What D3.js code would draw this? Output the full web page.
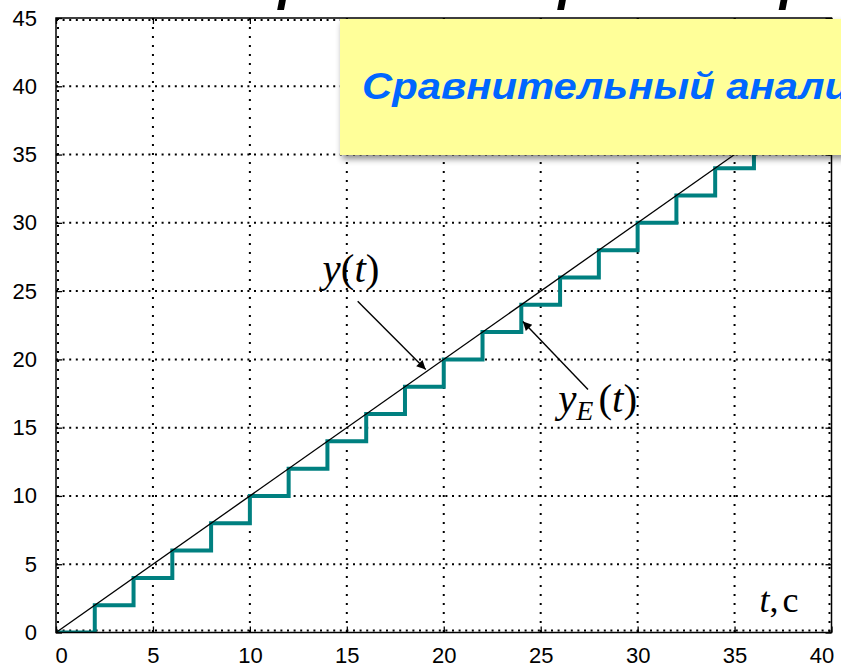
<!DOCTYPE html>
<html>
<head>
<meta charset="utf-8">
<script src="https://cdn.jsdelivr.net/npm/d3@7"></script>
<style>
  html, body { margin: 0; padding: 0; background: #fff; }
  svg { display: block; }
</style>
</head>
<body>
<svg id="chart" width="841" height="668"></svg>
<script>
// Exact solution y(t) = t
const exactT = [0, 40];
const exactY = [0, 40];

// Euler solution y_E(t), step h = 2 s (values at the nodes)
const eulerT = [0, 2, 4, 6, 8, 10, 12, 14, 16, 18, 20, 22, 24, 26, 28, 30, 32, 34, 36, 38, 40];
const eulerY = [0, 2, 4, 6, 8, 10, 12, 14, 16, 18, 20, 22, 24, 26, 28, 30, 32, 34, 36, 38, 40];

// Axis ticks
const xTicks = [0, 5, 10, 15, 20, 25, 30, 35, 40];
const yTicks = [0, 5, 10, 15, 20, 25, 30, 35, 40, 45];

const titleText = "Моделирование первого порядка";
const boxText = "Сравнительный анализ";

(function draw() {
  const svg = d3.select("#chart");
  const mLeft = 56, mRight = 831.5, mTop = 18, mBottom = 632.5;

  const x = d3.scaleLinear().domain([0, 40]).range([mLeft, mRight]);
  const y = d3.scaleLinear().domain([0, 45]).range([mBottom, mTop]);

  const defs = svg.append("defs");
  defs.append("clipPath").attr("id", "plotClip")
    .append("rect").attr("x", mLeft).attr("y", mTop)
    .attr("width", mRight - mLeft).attr("height", mBottom - mTop);

  const shadow = defs.append("filter").attr("id", "boxShadow")
    .attr("x", "-5%").attr("y", "-10%").attr("width", "115%").attr("height", "130%");
  shadow.append("feDropShadow").attr("dx", 2).attr("dy", 4)
    .attr("stdDeviation", 3).attr("flood-color", "#000").attr("flood-opacity", 0.45);

  defs.append("marker").attr("id", "arrowHead")
    .attr("viewBox", "0 0 10 10").attr("refX", 10).attr("refY", 5)
    .attr("markerWidth", 14).attr("markerHeight", 9)
    .attr("markerUnits", "userSpaceOnUse").attr("orient", "auto")
    .append("path").attr("d", "M0,0 L10,5 L0,10 Z").attr("fill", "#000");

  // Dotted grid
  const grid = svg.append("g");
  const edgeX = d => (d === 0 ? 2 : d === 40 ? -2 : 0);
  const edgeY = d => (d === 0 ? -2 : d === 45 ? 2 : 0);
  grid.selectAll("line.gx").data(xTicks).join("line").attr("class", "gx")
    .attr("x1", d => x(d) + edgeX(d)).attr("x2", d => x(d) + edgeX(d))
    .attr("y1", mTop).attr("y2", mBottom)
    .attr("stroke", "#000").attr("stroke-width", 2)
    .attr("stroke-dasharray", "2,7");
  grid.selectAll("line.gy").data(yTicks).join("line").attr("class", "gy")
    .attr("y1", d => y(d) + edgeY(d)).attr("y2", d => y(d) + edgeY(d))
    .attr("x1", mLeft).attr("x2", mRight)
    .attr("stroke", "#000").attr("stroke-width", 2)
    .attr("stroke-dasharray", "2,4.6");

  // Curves
  const plot = svg.append("g").attr("clip-path", "url(#plotClip)");
  const exactData = exactT.map((t, i) => [t, exactY[i]]);
  const eulerData = eulerT.map((t, i) => [t, eulerY[i]]);

  plot.append("path")
    .attr("d", d3.line().x(d => x(d[0])).y(d => y(d[1])).curve(d3.curveStepAfter)(eulerData))
    .attr("fill", "none").attr("stroke", "#008080").attr("stroke-width", 4)
    .attr("stroke-linejoin", "miter");

  plot.append("path")
    .attr("d", d3.line().x(d => x(d[0])).y(d => y(d[1]))(exactData))
    .attr("fill", "none").attr("stroke", "#000").attr("stroke-width", 1.3);

  // Axes frame with inward ticks
  const axesG = svg.append("g");
  const tickLen = 6;
  axesG.append("rect").attr("x", mLeft).attr("y", mTop)
    .attr("width", mRight - mLeft).attr("height", mBottom - mTop)
    .attr("fill", "none").attr("stroke", "#000").attr("stroke-width", 1.5);

  const bottomAxis = d3.axisBottom(x).tickValues(xTicks).tickSize(-tickLen).tickPadding(15).tickFormat(d3.format("d"));
  const leftAxis = d3.axisLeft(y).tickValues(yTicks).tickSize(-tickLen).tickPadding(19).tickFormat(d3.format("d"));
  const topAxis = d3.axisTop(x).tickValues(xTicks).tickSize(-tickLen).tickFormat("");
  const rightAxis = d3.axisRight(y).tickValues(yTicks).tickSize(-tickLen).tickFormat("");

  function styleAxis(g) {
    g.select(".domain").remove();
    g.selectAll(".tick line").attr("stroke", "#000").attr("stroke-width", 1.3);
    g.selectAll(".tick text").attr("fill", "#000").attr("font-size", 22)
      .attr("font-family", "Arial, 'Liberation Sans', sans-serif");
  }
  const gBottom = axesG.append("g").attr("transform", `translate(0,${mBottom})`).call(bottomAxis).call(styleAxis);
  gBottom.selectAll(".tick text").attr("dx", d => (d === 0 ? 5 : d === 40 ? -10 : 0));
  axesG.append("g").attr("transform", `translate(${mLeft},0)`).call(leftAxis).call(styleAxis);
  axesG.append("g").attr("transform", `translate(0,${mTop})`).call(topAxis).call(styleAxis);
  axesG.append("g").attr("transform", `translate(${mRight},0)`).call(rightAxis).call(styleAxis);

  // Annotations
  const ann = svg.append("g").attr("font-family", "'Times New Roman', 'Liberation Serif', serif").attr("fill", "#000");

  const yLbl = ann.append("text").attr("x", x(13.75)).attr("y", y(25.64)).attr("font-size", 41);
  yLbl.append("tspan").attr("font-style", "italic").text("y");
  yLbl.append("tspan").text("(");
  yLbl.append("tspan").attr("font-style", "italic").text("t");
  yLbl.append("tspan").text(")");

  const eLbl = ann.append("text").attr("x", x(25.9)).attr("y", y(16.18)).attr("font-size", 41);
  eLbl.append("tspan").attr("font-style", "italic").text("y");
  eLbl.append("tspan").attr("font-style", "italic").attr("font-size", 28).attr("dy", 8).text("E");
  eLbl.append("tspan").attr("dy", -8).attr("dx", 5).text("(");
  eLbl.append("tspan").attr("font-style", "italic").text("t");
  eLbl.append("tspan").text(")");

  const tLbl = ann.append("text").attr("x", x(36.28)).attr("y", y(1.5)).attr("font-size", 36);
  tLbl.append("tspan").attr("font-style", "italic").text("t");
  tLbl.append("tspan").text(",");
  tLbl.append("tspan").attr("dx", 4).text("c");

  const arrows = [
    { from: [15.56, 24.25], to: [19.07, 19.26] },
    { from: [27.44, 17.79], to: [24.08, 22.78] }
  ];
  ann.selectAll("line.arrow").data(arrows).join("line").attr("class", "arrow")
    .attr("x1", d => x(d.from[0])).attr("y1", d => y(d.from[1]))
    .attr("x2", d => x(d.to[0])).attr("y2", d => y(d.to[1]))
    .attr("stroke", "#000").attr("stroke-width", 1.4)
    .attr("marker-end", "url(#arrowHead)");

  // Slide title, mostly above the visible area; placed so that the letter "д"
  // starts near x=157 and the "р" of the last word near x=780
  const title = svg.append("text").attr("x", 0).attr("y", 0)
    .attr("font-family", "Arial, 'Liberation Sans', sans-serif")
    .attr("font-size", 50).attr("font-weight", "bold").attr("font-style", "italic")
    .attr("fill", "#000").text(titleText);
  const tNode = title.node();
  const iD = titleText.indexOf("д");
  const iR = titleText.lastIndexOf("порядка") + 2;
  const pD = tNode.getStartPositionOfChar(iD).x;
  const pR = tNode.getStartPositionOfChar(iR).x;
  const sx = (780 - 157) / (pR - pD);
  title.attr("transform", `translate(${157 - pD * sx},0) scale(${sx},1)`);

  // Yellow caption box
  const box = svg.append("g");
  box.append("rect").attr("x", 340).attr("y", 19).attr("width", 520).attr("height", 136)
    .attr("fill", "#ffff99").attr("filter", "url(#boxShadow)");
  box.append("text").attr("transform", "translate(362,99) scale(1.13,1)")
    .attr("font-family", "Arial, 'Liberation Sans', sans-serif")
    .attr("font-size", 37).attr("font-weight", "bold").attr("font-style", "italic")
    .attr("fill", "#0066ff").text(boxText);
})();
</script>
</body>
</html>
